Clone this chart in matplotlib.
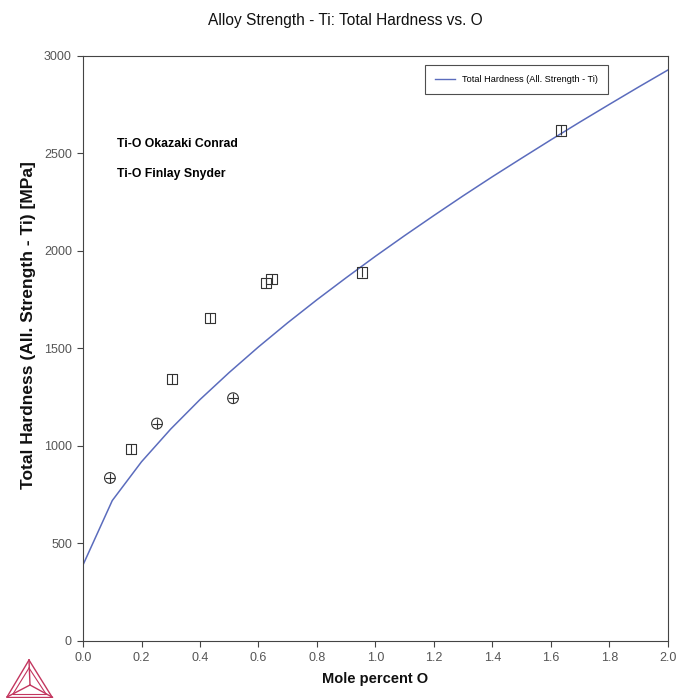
import matplotlib
matplotlib.use("Agg")
import matplotlib.pyplot as plt
from matplotlib.lines import Line2D

plt.rcParams['font.family'] = ['Liberation Sans', 'DejaVu Sans']

# --- calculated curve: total hardness vs mole percent O ---
mole_pct = [0.0, 0.1, 0.2, 0.3, 0.4, 0.5, 0.6, 0.7, 0.8, 0.9, 1.0,
            1.1, 1.2, 1.3, 1.4, 1.5, 1.6, 1.7, 1.8, 1.9, 2.0]
hardness = [390, 720, 919, 1087, 1238, 1377, 1508, 1632, 1750, 1863, 1973,
            2079, 2182, 2283, 2381, 2476, 2570, 2662, 2752, 2841, 2928]

# --- experimental points ---
okazaki_x = [0.165, 0.305, 0.435, 0.625, 0.645, 0.955, 1.635]
okazaki_y = [985, 1345, 1655, 1835, 1855, 1890, 2618]
finlay_x = [0.092, 0.253, 0.513]
finlay_y = [836, 1115, 1245]

fig = plt.figure(figsize=(6.76, 6.98), dpi=100)
ax = fig.add_axes([0.1228, 0.0817, 0.8652, 0.8381])

line_col = '#5b6cbd'
ax.plot(mole_pct, hardness, color=line_col, lw=1.1)

# square with vertical bar
ax.scatter(okazaki_x, okazaki_y, marker='s', s=55, facecolors='none',
           edgecolors='#333333', linewidths=0.8, zorder=3)
ax.scatter(okazaki_x, okazaki_y, marker='|', s=55, color='#333333',
           linewidths=0.8, zorder=3)
# circle with plus
ax.scatter(finlay_x, finlay_y, marker='o', s=60, facecolors='none',
           edgecolors='#333333', linewidths=0.8, zorder=3)
ax.scatter(finlay_x, finlay_y, marker='+', s=60, color='#333333',
           linewidths=0.8, zorder=3)

ax.set_xlim(0, 2.0)
ax.set_ylim(0, 3000)
ax.set_xticks([0.0, 0.2, 0.4, 0.6, 0.8, 1.0, 1.2, 1.4, 1.6, 1.8, 2.0])
ax.set_xticklabels(['0.0', '0.2', '0.4', '0.6', '0.8', '1.0', '1.2', '1.4',
                    '1.6', '1.8', '2.0'])
ax.set_yticks([0, 500, 1000, 1500, 2000, 2500, 3000])
ax.tick_params(labelsize=9, colors='#444444', labelcolor='#555555',
               length=4, width=0.8, pad=4)
for s in ax.spines.values():
    s.set_color('#444444')
    s.set_linewidth(0.8)

ax.set_xlabel('Mole percent O', fontsize=10.5, fontweight='bold',
              labelpad=6, color='#111111')
ax.set_ylabel('Total Hardness (All. Strength - Ti) [MPa]', fontsize=12.5,
              fontweight='bold', color='#111111')
ax.yaxis.set_label_coords(-0.08, 0.54)
fig.text(0.511, 0.971, 'Alloy Strength - Ti: Total Hardness vs. O',
         ha='center', va='center', fontsize=11.2, color='#111111')

ax.text(0.117, 2550, 'Ti-O Okazaki Conrad', fontsize=8.8, fontweight='bold',
        va='center')
ax.text(0.117, 2396, 'Ti-O Finlay Snyder', fontsize=8.8, fontweight='bold',
        va='center')

handle = Line2D([], [], color=line_col, lw=1.0)
leg = ax.legend([handle], ['Total Hardness (All. Strength - Ti)'],
                loc='upper right', bbox_to_anchor=(0.906, 0.992),
                fontsize=6.6, frameon=True, fancybox=False,
                handlelength=2.2, borderpad=1.1)
leg.get_frame().set_edgecolor('#222222')
leg.get_frame().set_linewidth(0.8)

# logo triangle in the bottom-left corner (pixel coords -> figure fraction)
W, H = 676, 698
def fp(px, py):
    return px / W, 1 - py / H
red = '#c3365f'
top, bl, br, c = fp(29, 660), fp(7, 697), fp(52, 697), fp(30, 685)
for a, b in [(top, bl), (bl, br), (br, top), (top, c), (bl, c), (br, c)]:
    fig.add_artist(Line2D([a[0], b[0]], [a[1], b[1]], color=red, lw=1.0,
                          transform=fig.transFigure))
itop, ibl, ibr = fp(29, 668), fp(13, 694), fp(46, 694)
for a, b in [(itop, ibl), (ibl, ibr), (ibr, itop)]:
    fig.add_artist(Line2D([a[0], b[0]], [a[1], b[1]], color=red, lw=0.8,
                          transform=fig.transFigure))

fig.savefig('out.png', dpi=100)
